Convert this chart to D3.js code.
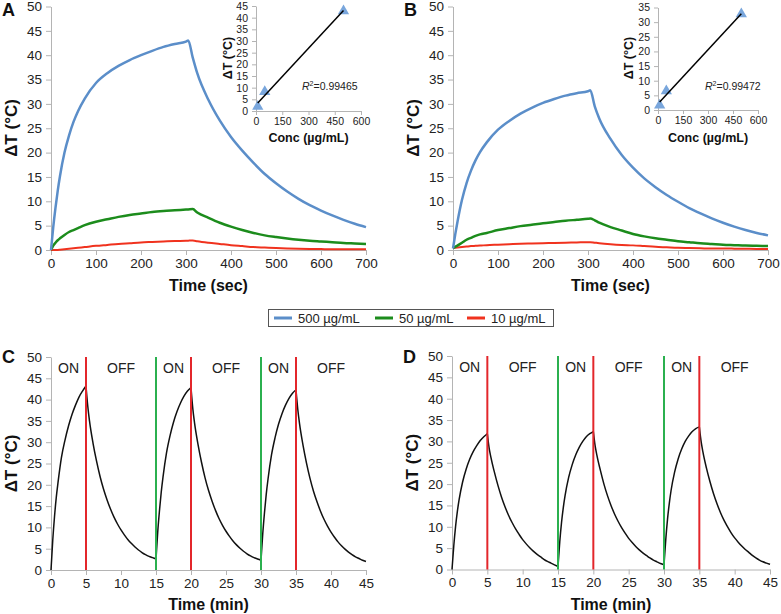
<!DOCTYPE html>
<html>
<head>
<meta charset="utf-8">
<script src="https://cdn.jsdelivr.net/npm/d3@7"></script>
<style>
  body { margin: 0; background: #fff; }
  svg { display: block; }
  text { font-family: "Liberation Sans", Arial, sans-serif; }
</style>
</head>
<body>
<svg id="chart" width="781" height="614"></svg>
<script>
// ---- data ----
// panels A / B : temperature rise vs time (sec)
const timeSec = [0,5,10,15,20,30,40,50,60,75,100,125,150,175,200,225,250,275,300,305,315,325,350,375,400,425,450,475,500,525,550,575,600,625,650,675,700];

const tempA500 = [0,4.7,8.7,12.2,15.2,20,23.5,26.3,28.5,31.1,34.3,36.3,37.8,39,40,40.9,41.7,42.3,42.8,43,39.5,36.3,30.8,26.6,23.2,20.4,17.9,15.6,13.7,12,10.5,9.2,8.1,7.1,6.2,5.4,4.7];
const tempA50  = [0,0.9,1.5,2.0,2.4,3.1,3.7,4.1,4.5,5.1,5.8,6.3,6.8,7.2,7.5,7.8,8.0,8.15,8.3,8.33,8.4,7.7,6.6,5.6,4.8,4.1,3.5,3.0,2.65,2.35,2.1,1.9,1.75,1.6,1.45,1.35,1.25];
const tempA10  = [0,0,0,0,0.05,0.15,0.25,0.35,0.45,0.6,0.85,1.05,1.25,1.4,1.55,1.65,1.75,1.85,1.9,1.92,1.95,1.8,1.5,1.25,1.0,0.8,0.6,0.5,0.4,0.32,0.25,0.2,0.18,0.16,0.15,0.15,0.15];

const tempB500 = [0.3,3.2,5.8,8.2,10.3,13.7,16.3,18.4,20.1,22.1,24.7,26.5,28,29.2,30.2,31,31.7,32.2,32.6,32.8,29.5,27,22.8,19.5,16.9,14.7,12.9,11.3,9.9,8.6,7.5,6.5,5.6,4.8,4.1,3.5,3.0];
const tempB50  = [0.4,0.65,0.9,1.2,1.5,2.1,2.5,2.9,3.2,3.5,4.1,4.5,4.9,5.2,5.5,5.75,6.0,6.2,6.4,6.45,6.1,5.6,4.7,4.0,3.3,2.8,2.4,2.1,1.8,1.6,1.4,1.25,1.1,1.0,0.9,0.85,0.8];
const tempB10  = [0.4,0.45,0.5,0.55,0.6,0.7,0.8,0.85,0.9,1.0,1.1,1.2,1.3,1.35,1.4,1.45,1.5,1.55,1.6,1.6,1.5,1.4,1.2,1.05,0.95,0.8,0.65,0.55,0.45,0.4,0.35,0.3,0.3,0.28,0.25,0.22,0.2];

const seriesNames = ["500 µg/mL", "50 µg/mL", "10 µg/mL"];
const seriesColors = ["#5b8ec9", "#1c8c1c", "#f0321e"];

// insets : peak temperature vs concentration
const concs = [10, 50, 500];
const peakA = [1.9, 8.3, 42.9];
const peakB = [1.6, 6.45, 32.8];
const r2A = "0.99465";
const r2B = "0.99472";

// panels C / D : on/off cycles (min)
const cycleStart = [0, 15, 30];
const heatMin = [0,0.25,0.5,0.75,1,1.5,2,2.5,3,3.5,4,4.5,5];
const coolMin = [5.25,5.5,6,6.5,7,7.5,8,8.5,9,9.5,10,10.5,11,11.5,12,12.5,13,13.5,14,14.5,15];

const heatC = [
  [0,7,12.5,17,20.5,26.5,30.5,33.8,36.5,38.7,40.6,42,43.2],
  [2.6,9,14,18.3,21.8,27.5,31.5,34.7,37.2,39.2,40.8,42,42.8],
  [2.3,8.5,13.5,17.8,21.3,27,31,34.2,36.7,38.7,40.3,41.5,42.3]
];
const coolC = [
  [38.5,35,29.8,25.6,22,19,16.5,14.3,12.4,10.8,9.4,8.2,7.1,6.2,5.4,4.7,4.1,3.6,3.2,2.9,2.6],
  [38,34.6,29.5,25.3,21.7,18.7,16.2,14,12.1,10.5,9.1,7.9,6.8,5.9,5.1,4.4,3.8,3.3,2.9,2.6,2.3],
  [37.8,34.4,29.3,25.1,21.5,18.5,16,13.8,11.9,10.3,8.9,7.7,6.6,5.7,4.9,4.2,3.6,3.1,2.7,2.3,2.0]
];
const heatD = [
  [0,5.5,10,13.5,16.3,20.5,23.5,25.8,27.6,29,30.2,31.1,31.8],
  [0.7,6.5,11,14.5,17.3,21.5,24.5,26.8,28.6,30,31.1,31.8,32.3],
  [1.1,7,11.8,15.5,18.5,22.8,25.9,28.2,30,31.3,32.3,33,33.4]
];
const coolD = [
  [28.5,26.3,22.8,19.7,17,14.7,12.7,11,9.5,8.2,7,6,5.1,4.3,3.6,3,2.4,1.9,1.5,1.1,0.7],
  [29,26.8,23.2,20,17.3,15,13,11.3,9.8,8.5,7.3,6.3,5.4,4.6,3.9,3.3,2.7,2.2,1.8,1.4,1.1],
  [30,27.6,23.8,20.6,17.8,15.4,13.3,11.5,10,8.6,7.4,6.4,5.5,4.7,4,3.3,2.7,2.2,1.8,1.5,1.2]
];

const laserOffAt = [5, 20, 35];
const laserOnAt = [15, 30];
const phaseText = ["ON", "OFF", "ON", "OFF", "ON", "OFF"];
const phaseAt = [2.5, 10, 17.5, 25, 32.5, 40];

const tempTicks = d3.range(0, 51, 5);
const secTicks = d3.range(0, 701, 100);
const minTicks = d3.range(0, 46, 5);
const concTicks = [0, 150, 300, 450, 600];

const svg = d3.select("#chart");
const axisGrey = "#b4b4b4";

function styleAxis(g, fontSize) {
  g.select(".domain").attr("stroke", axisGrey).attr("stroke-width", 1);
  g.selectAll(".tick line").attr("stroke", axisGrey);
  g.selectAll(".tick text")
    .attr("fill", "#222")
    .style("font-size", fontSize + "px")
    .style("font-family", "'Liberation Sans', Arial, sans-serif");
}

function drawAxes(x, y, xTicks, yTicks, fs, tick) {
  const gx = svg.append("g")
    .attr("transform", `translate(0,${y.range()[0]})`)
    .call(d3.axisBottom(x).tickValues(xTicks).tickSize(tick).tickSizeOuter(0).tickPadding(3));
  styleAxis(gx, fs);
  const gy = svg.append("g")
    .attr("transform", `translate(${x.range()[0]},0)`)
    .call(d3.axisLeft(y).tickValues(yTicks).tickSize(tick).tickSizeOuter(0).tickPadding(4));
  styleAxis(gy, fs);
}

function vLabel(x, y, txt, size) {
  svg.append("text")
    .attr("transform", `translate(${x},${y}) rotate(-90)`)
    .attr("text-anchor", "middle")
    .attr("font-weight", "bold")
    .attr("font-size", size)
    .attr("fill", "#111")
    .text(txt);
}

function hLabel(x, y, txt, size, anchor) {
  svg.append("text")
    .attr("x", x).attr("y", y)
    .attr("text-anchor", anchor || "middle")
    .attr("font-weight", "bold")
    .attr("font-size", size)
    .attr("fill", "#111")
    .text(txt);
}

// ---- panels A and B ----
function drawKinetics(letter, x0, series) {
  const x = d3.scaleLinear().domain([0, 700]).range([x0, x0 + 315]);
  const y = d3.scaleLinear().domain([0, 50]).range([250, 6.5]);
  drawAxes(x, y, secTicks, tempTicks, 13.5, 5);

  const line = d3.line()
    .x((d, i) => x(timeSec[i]))
    .y(d => y(d))
    .curve(d3.curveMonotoneX);

  // draw 500 last so it stays on top
  [2, 1, 0].forEach(k => {
    svg.append("path")
      .datum(series[k])
      .attr("fill", "none")
      .attr("stroke", seriesColors[k])
      .attr("stroke-width", k === 2 ? 2 : 2.5)
      .attr("d", line);
  });

  hLabel(x(350), 291, "Time (sec)", 16);
  vLabel(x0 - 34, 128, "ΔT (°C)", 17);
  hLabel(x0 - 49, 16, letter, 18, "start");
}

drawKinetics("A", 51, [tempA500, tempA50, tempA10]);
drawKinetics("B", 453, [tempB500, tempB50, tempB10]);

// ---- insets ----
function drawInset(xr, yr, yMax, peaks, r2, titleX, r2x) {
  const x = d3.scaleLinear().domain([0, 600]).range(xr);
  const y = d3.scaleLinear().domain([0, yMax]).range(yr);
  drawAxes(x, y, concTicks, d3.range(0, yMax + 1, 5), 10.5, 4);

  // least squares fit through the three points
  const mx = d3.mean(concs), my = d3.mean(peaks);
  const sxy = d3.sum(concs, (c, i) => (c - mx) * (peaks[i] - my));
  const sxx = d3.sum(concs, c => (c - mx) * (c - mx));
  const slope = sxy / sxx, icpt = my - slope * mx;

  svg.selectAll(null)
    .data(concs)
    .join("path")
    .attr("transform", (c, i) => `translate(${x(c)},${y(peaks[i])})`)
    .attr("d", d3.symbol(d3.symbolTriangle, 55))
    .attr("fill", "#79a6dc");

  svg.append("line")
    .attr("x1", x(concs[0])).attr("y1", y(icpt + slope * concs[0]))
    .attr("x2", x(concs[2])).attr("y2", y(icpt + slope * concs[2]))
    .attr("stroke", "#000").attr("stroke-width", 1.5);

  const t = svg.append("text")
    .attr("x", r2x).attr("y", 90)
    .attr("font-size", 10.5).attr("fill", "#222");
  t.append("tspan").attr("font-style", "italic").text("R");
  t.append("tspan").attr("font-size", 7).attr("dy", -4).text("2");
  t.append("tspan").attr("dy", 4).text("=" + r2);

  hLabel((xr[0] + xr[1]) / 2, 142, "Conc (µg/mL)", 12.5);
  vLabel(titleX, 58, "ΔT (°C)", 12.5);
}

drawInset([256, 361], [111, 6], 45, peakA, r2A, 232, 302);
drawInset([658, 758], [110, 7.5], 35, peakB, r2B, 633, 705);

// ---- legend ----
const legend = svg.append("g");
legend.append("rect")
  .attr("x", 268.5).attr("y", 309.5).attr("width", 285).attr("height", 17)
  .attr("fill", "#fff").attr("stroke", "#555").attr("stroke-width", 1);
const legX = [274, 375, 467];
seriesNames.forEach((name, i) => {
  legend.append("line")
    .attr("x1", legX[i]).attr("x2", legX[i] + 18)
    .attr("y1", 318).attr("y2", 318)
    .attr("stroke", seriesColors[i]).attr("stroke-width", 3);
  legend.append("text")
    .attr("x", legX[i] + 24).attr("y", 322.5)
    .attr("font-size", 13).attr("fill", "#222")
    .text(name);
});

// ---- panels C and D ----
function drawCycles(letter, xr, yr, heat, cool) {
  const x = d3.scaleLinear().domain([0, 45]).range(xr);
  const y = d3.scaleLinear().domain([0, 50]).range(yr);
  drawAxes(x, y, minTicks, tempTicks, 13.5, 5);

  const pts = [];
  cycleStart.forEach((s, c) => {
    heatMin.forEach((m, i) => { if (c === 0 || i > 0) pts.push([s + m, heat[c][i]]); });
    coolMin.forEach((m, i) => pts.push([s + m, cool[c][i]]));
  });

  // split at each laser switch so the corners stay sharp
  const segs = [[]];
  pts.forEach(p => {
    segs[segs.length - 1].push(p);
    if ([5, 15, 20, 30, 35].includes(p[0])) segs.push([p]);
  });

  const line = d3.line()
    .x(d => x(d[0])).y(d => y(d[1]))
    .curve(d3.curveMonotoneX);

  svg.selectAll(null)
    .data(segs.filter(s => s.length > 1))
    .join("path")
    .attr("fill", "none")
    .attr("stroke", "#111")
    .attr("stroke-width", 1.5)
    .attr("d", line);

  svg.selectAll(null)
    .data(laserOnAt)
    .join("line")
    .attr("x1", d => x(d)).attr("x2", d => x(d))
    .attr("y1", y(0)).attr("y2", y(50))
    .attr("stroke", "#2bb04f").attr("stroke-width", 2);

  svg.selectAll(null)
    .data(laserOffAt)
    .join("line")
    .attr("x1", d => x(d)).attr("x2", d => x(d))
    .attr("y1", y(0)).attr("y2", y(50))
    .attr("stroke", "#e3262b").attr("stroke-width", 2);

  svg.selectAll(null)
    .data(phaseText)
    .join("text")
    .attr("x", (d, i) => x(phaseAt[i]))
    .attr("y", y(46.2))
    .attr("text-anchor", "middle")
    .attr("font-size", 14)
    .attr("fill", "#222")
    .text(d => d);

  hLabel((xr[0] + xr[1]) / 2, 610, "Time (min)", 16);
  vLabel(xr[0] - 34, (yr[0] + yr[1]) / 2, "ΔT (°C)", 17);
  hLabel(xr[0] - 49, 363, letter, 18, "start");
}

drawCycles("C", [51, 366], [570, 357], heatC, coolC);
drawCycles("D", [452, 770], [569.5, 356], heatD, coolD);
</script>
</body>
</html>
